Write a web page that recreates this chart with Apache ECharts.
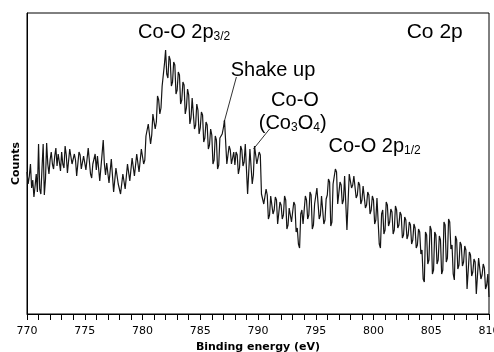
<!DOCTYPE html>
<html>
<head>
<meta charset="utf-8">
<script src="https://cdn.jsdelivr.net/npm/echarts@6/dist/echarts.min.js"></script>
<style>html,body{margin:0;padding:0;background:#fff}#c{width:494px;height:352px}</style>
</head>
<body>
<div id="c"></div>
<script>
const energyStart = 770;
const energyStep = 0.1;
const counts = [
  142,130,138,150,126,134,117,128,140,122,
  170,125,120,146,170,119,135,171,150,140,
  154,162,150,145,158,166,148,160,152,143,
  162,150,146,168,159,141,142,165,164,150,
  149,160,154,138,139,162,159,145,146,158,
  156,144,142,166,164,140,136,150,152,160,
  144,158,159,133,134,160,174,150,139,151,
  149,131,129,155,154,122,124,146,144,130,
  129,120,118,140,139,125,126,150,149,133,
  134,156,154,138,139,160,159,142,144,165,
  166,150,154,178,176,190,189,170,179,200,
  202,185,192,218,214,200,206,228,239,250,
  264,240,236,258,254,228,232,252,249,220,
  224,242,239,210,214,232,229,200,206,225,
  219,190,196,216,214,185,189,210,204,180,
  186,202,199,172,176,192,189,165,169,185,
  179,150,154,178,174,145,149,176,174,180,
  186,194,192,150,149,168,164,150,156,162,
  149,162,159,140,146,168,164,148,152,170,
  169,120,122,165,164,130,139,168,166,150,
  149,162,159,120,119,110,111,125,119,95,
  99,118,116,100,104,117,114,90,92,112,
  109,95,99,118,114,85,89,106,104,92,
  94,112,109,82,86,70,66,100,104,90,
  92,118,114,95,99,122,119,85,89,110,
  109,126,124,95,99,118,116,90,94,115,
  119,135,132,88,92,130,129,145,142,110,
  109,132,129,110,114,138,136,84,86,140,
  142,126,129,138,136,116,119,132,129,110,
  114,128,126,106,109,122,119,100,104,118,
  114,90,94,116,114,70,66,100,104,80,
  84,112,109,88,92,105,102,80,84,108,
  104,86,89,102,99,76,79,97,94,75,
  79,92,89,70,74,90,86,66,69,85,
  82,60,64,35,32,82,79,50,54,88,
  84,40,44,82,79,50,54,78,74,40,
  44,92,89,52,56,95,92,65,69,40,
  34,78,74,45,49,72,69,48,52,68,
  64,25,27,62,59,38,42,55,52,20,
  19,56,54,35,39,50,46,25,29,40,
  17
];
const xTickLabels = [770, 775, 780, 785, 790, 795, 800, 805, 810];
const annotations = [
  {text: '{m|Co-O 2p}{s|3/2}', at: [783.6, 282]},
  {text: '{b|Co 2p}', at: [805.3, 282]},
  {text: '{m|Shake up}', at: [791.3, 244]},
  {text: '{m|Co-O}', at: [793.2, 214]},
  {text: '{m|(Co}{s|3}{m|O}{s|4}{m|)}', at: [793.0, 191]},
  {text: '{m|Co-O 2p}{s|1/2}', at: [800.1, 168]}
];
const leaders = [
  [[788.13, 237], [787.07, 192]],
  [[791.0, 185], [789.61, 165]]
];

const seriesData = counts.map((v, i) => [+(energyStart + i * energyStep).toFixed(1), v]);

const chart = echarts.init(document.getElementById('c'), null, {renderer: 'canvas'});
chart.setOption({
  animation: false,
  backgroundColor: '#fff',
  grid: {left: 27, right: 5, top: 13, bottom: 38, show: true, borderColor: '#000', borderWidth: 1,
    backgroundColor: 'transparent', containLabel: false, outerBoundsMode: 'none'},
  xAxis: {
    type: 'value', min: 770, max: 810, interval: 5,
    name: 'Binding energy (eV)', nameLocation: 'middle', nameGap: 26,
    nameTextStyle: {fontFamily: 'DejaVu Sans', fontWeight: 'bold', fontSize: 11, color: '#000'},
    axisLine: {show: true, lineStyle: {color: '#000', width: 1}},
    axisTick: {show: true, inside: false, length: 6, lineStyle: {color: '#000'}},
    minorTick: {show: true, splitNumber: 5, length: 6, lineStyle: {color: '#000'}},
    axisLabel: {fontFamily: 'DejaVu Sans', fontSize: 11, color: '#000', margin: 12,
      showMinLabel: true, showMaxLabel: true,
      formatter: v => xTickLabels.includes(v) ? String(v) : ''},
    splitLine: {show: false}
  },
  yAxis: {
    type: 'value', min: 0, max: 301,
    name: 'Counts', nameLocation: 'middle', nameGap: 5,
    nameTextStyle: {fontFamily: 'DejaVu Sans', fontWeight: 'bold', fontSize: 11, color: '#000'},
    axisLine: {show: true, lineStyle: {color: '#000'}},
    axisTick: {show: false}, axisLabel: {show: false}, splitLine: {show: false}
  },
  series: [{
    type: 'line', data: seriesData, showSymbol: false, symbol: 'none',
    lineStyle: {color: '#151515', width: 1.2}
  }]
});

const rich = {
  m: {fontFamily: 'Liberation Sans', fontSize: 20, color: '#000', lineHeight: 22, verticalAlign: 'middle'},
  s: {fontFamily: 'Liberation Sans', fontSize: 12, color: '#000', lineHeight: 12, verticalAlign: 'bottom'},
  b: {fontFamily: 'Liberation Sans', fontSize: 21, color: '#000', lineHeight: 22}
};
const graphics = [];
annotations.forEach(a => {
  const p = chart.convertToPixel({gridIndex: 0}, a.at);
  graphics.push({type: 'text', x: p[0], y: p[1], style: {text: a.text, rich: rich, align: 'center', verticalAlign: 'middle'}});
});
leaders.forEach(l => {
  const p1 = chart.convertToPixel({gridIndex: 0}, l[0]);
  const p2 = chart.convertToPixel({gridIndex: 0}, l[1]);
  graphics.push({type: 'line', shape: {x1: p1[0], y1: p1[1], x2: p2[0], y2: p2[1]}, style: {stroke: '#333', lineWidth: 1}});
});
chart.setOption({graphic: graphics});
</script>
</body>
</html>
